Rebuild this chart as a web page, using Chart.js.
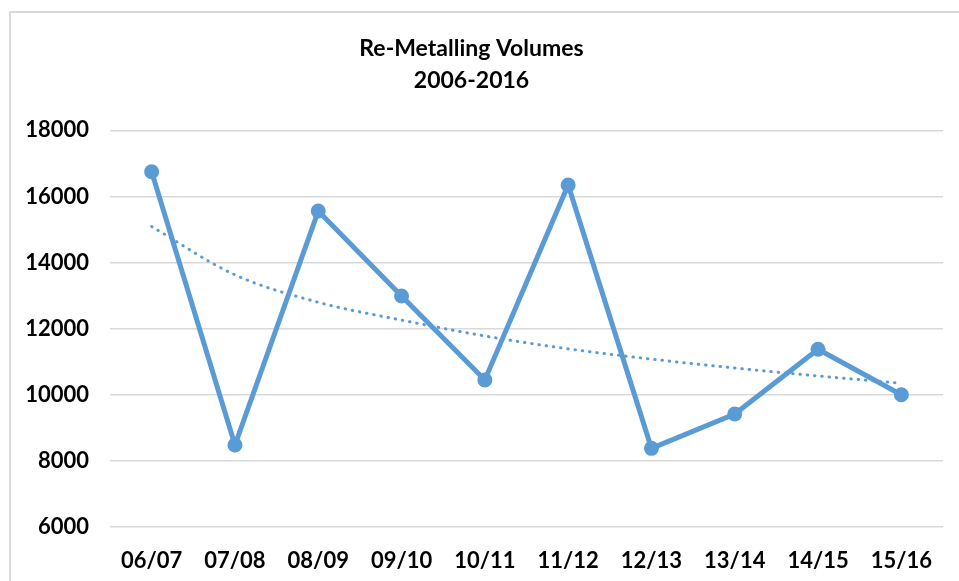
<!DOCTYPE html>
<html>
<head>
<meta charset="utf-8">
<script src="https://cdn.jsdelivr.net/npm/chart.js@4/dist/chart.umd.min.js"></script>
<style>
  html, body { margin: 0; padding: 0; background: #fff; }
  #wrap { position: absolute; left: 0; top: 0; width: 959px; height: 581px; }
</style>
</head>
<body>
<div id="wrap"><canvas id="chart" width="959" height="581"></canvas></div>
<script>
// Season labels along the x axis
const categories = ['06/07', '07/08', '08/09', '09/10', '10/11', '11/12', '12/13', '13/14', '14/15', '15/16'];
// Re-metalling volume per season
const volumes = [16750, 8480, 15560, 12990, 10450, 16350, 8380, 9420, 11380, 10000];
// Logarithmic trend line values at each season
const trendVolumes = [15090, 13630, 12800, 12260, 11780, 11390, 11080, 10810, 10570, 10350];
// Value axis tick labels
const yTickValues = [6000, 8000, 10000, 12000, 14000, 16000, 18000];

const titleLines = ['Re-Metalling Volumes', '2006-2016'];

const BLUE = '#5B9BD5';
const GRID = '#d9d9d9';
const FONT = "Lato, 'Open Sans', 'Liberation Sans', sans-serif";

// White background plus the thin frame on the top and left edges
const framePlugin = {
  id: 'frame',
  beforeDraw(chart) {
    const ctx = chart.ctx;
    ctx.save();
    ctx.fillStyle = '#ffffff';
    ctx.fillRect(0, 0, chart.width, chart.height);
    ctx.strokeStyle = GRID;
    ctx.lineWidth = 2;
    ctx.beginPath();
    ctx.moveTo(10, chart.height);
    ctx.lineTo(10, 12);
    ctx.lineTo(chart.width, 12);
    ctx.stroke();
    ctx.restore();
  }
};

new Chart(document.getElementById('chart'), {
  type: 'line',
  data: {
    labels: categories,
    datasets: [
      {
        label: 'Trend',
        data: trendVolumes,
        borderColor: BLUE,
        borderWidth: 3,
        borderDash: [0.5, 6.8],
        borderCapStyle: 'round',
        pointRadius: 0,
        cubicInterpolationMode: 'monotone',
        fill: false,
        order: 0
      },
      {
        label: 'Volumes',
        data: volumes,
        borderColor: BLUE,
        backgroundColor: BLUE,
        borderWidth: 5,
        pointRadius: 7.5,
        pointBackgroundColor: BLUE,
        pointBorderColor: BLUE,
        pointBorderWidth: 0,
        tension: 0,
        fill: false,
        order: 1
      }
    ]
  },
  options: {
    responsive: false,
    animation: false,
    layout: { padding: { left: 0, right: 16, top: 0, bottom: 0 } },
    plugins: {
      legend: { display: false },
      tooltip: { enabled: false },
      title: {
        display: true,
        text: titleLines,
        color: '#000',
        font: { family: FONT, size: 23, weight: 'bold', lineHeight: 1.4 },
        padding: { top: 32, bottom: 34 }
      }
    },
    scales: {
      x: {
        offset: true,
        grid: { display: false, offset: true },
        border: { display: false },
        ticks: {
          color: '#000',
          font: { family: FONT, size: 22, weight: 'bold' },
          padding: 13,
          maxRotation: 0,
          autoSkip: false
        },
        afterFit(scale) { scale.height = 54; }
      },
      y: {
        min: 6000,
        max: 18000,
        grid: { color: GRID, lineWidth: 1.5, drawTicks: false },
        border: { display: false },
        afterBuildTicks(scale) {
          scale.ticks = yTickValues.map(v => ({ value: v }));
        },
        ticks: {
          color: '#000',
          font: { family: FONT, size: 22, weight: 'bold' },
          padding: 21,
          callback: v => String(v)
        },
        afterFit(scale) { scale.width = 110; }
      }
    }
  },
  plugins: [framePlugin]
});
</script>
</body>
</html>
